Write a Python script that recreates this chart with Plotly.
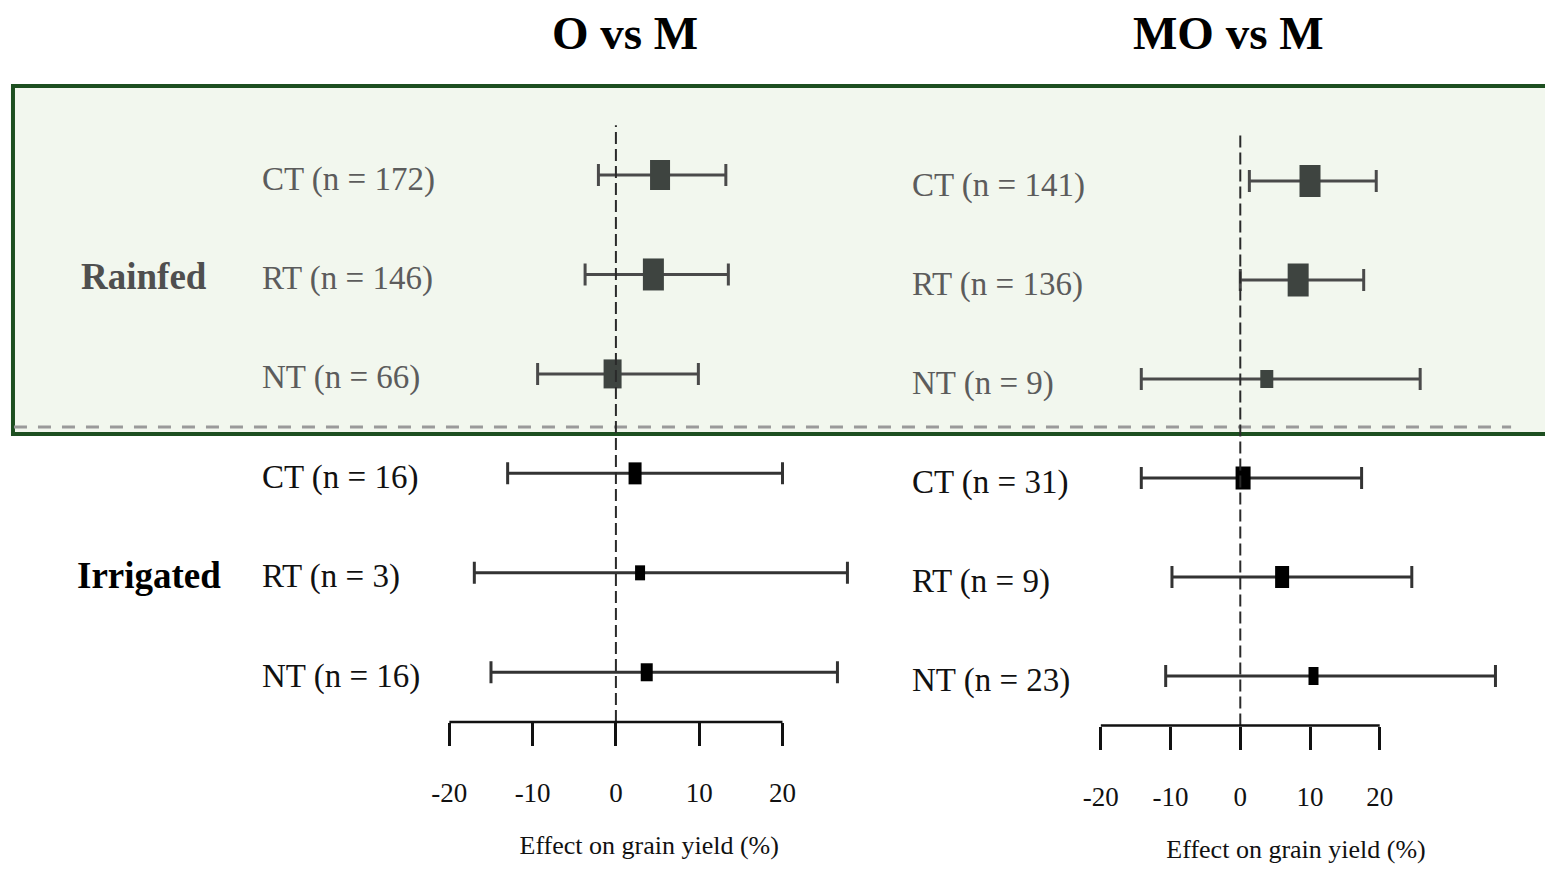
import plotly.graph_objects as go

W, H = 1545, 869

# ---------------- data ----------------
treatments = ["CT", "RT", "NT", "CT", "RT", "NT"]
groups = ["Rainfed", "Irrigated"]
rows = [0, 1, 2, 3, 4, 5]

left_title = "O vs M"
left_n = [172, 146, 66, 16, 3, 16]
left_est = [5.3, 4.5, -0.4, 2.3, 2.9, 3.7]
left_lo = [-2.1, -3.7, -9.4, -13.0, -17.0, -15.0]
left_hi = [13.2, 13.5, 9.9, 20.0, 27.8, 26.6]

right_title = "MO vs M"
right_n = [141, 136, 9, 31, 9, 23]
right_est = [10.0, 8.3, 3.8, 0.4, 6.0, 10.5]
right_lo = [1.3, 0.0, -14.2, -14.2, -9.8, -10.7]
right_hi = [19.5, 17.7, 25.8, 17.4, 24.6, 36.6]

tick_vals = [-20, -10, 0, 10, 20]
tick_text = ["-20", "-10", "0", "10", "20"]
axis_title = "Effect on grain yield (%)"

# box sizes (pixels) – relative weights
left_box_w = [20, 21, 18, 13, 10, 12]
left_box_h = [30, 32, 29, 22, 15, 18]
right_box_w = [21, 21, 13, 15, 14, 10]
right_box_h = [32, 33, 18, 23, 22, 18]

# ---------------- styles ----------------
FONT = "Liberation Serif, Times New Roman, serif"
rain_line = "#4a4a4a"
irr_line = "#333333"
rain_box = "#3e4440"
irr_box = "#000000"
rain_txt = "#5c5c5c"
irr_txt = "#111111"


def px_x(p):
    return p / W


def px_y(p):
    return 1 - p / H


fig = go.Figure()

L0, LS = 613.5, 8.35     # pixel of 0 and px/unit in left panel
R0, RS = 1239.5, 6.99    # pixel of 0 and px/unit in right panel

panels = [
    dict(xa="x", ya="y", est=left_est, lo=left_lo, hi=left_hi, n=left_n,
         bw=left_box_w, bh=left_box_h, label_x=257),
    dict(xa="x2", ya="y2", est=right_est, lo=right_lo, hi=right_hi, n=right_n,
         bw=right_box_w, bh=right_box_h, label_x=908),
]

shapes = []
annotations = []

# green shaded "Rainfed" block
shapes.append(dict(type="rect", xref="paper", yref="paper",
                   x0=px_x(9), x1=px_x(1565), y0=px_y(434), y1=px_y(86),
                   line=dict(color="#1d4f20", width=4), fillcolor="#f2f7ee",
                   layer="below"))
shapes.append(dict(type="line", xref="paper", yref="paper",
                   x0=px_x(10), x1=px_x(1511), y0=px_y(427), y1=px_y(427),
                   line=dict(color="#9a9a9a", width=3, dash="13px,11px"),
                   layer="below"))

for p in panels:
    for sl, lc in ((slice(0, 3), rain_line), (slice(3, 6), irr_line)):
        est = p["est"][sl]
        lo = p["lo"][sl]
        hi = p["hi"][sl]
        fig.add_trace(go.Scatter(
            x=est, y=rows[sl], mode="markers", xaxis=p["xa"], yaxis=p["ya"],
            marker=dict(size=1, color="rgba(0,0,0,0)"),
            error_x=dict(type="data", symmetric=False,
                         array=[h - e for h, e in zip(hi, est)],
                         arrayminus=[e - l for e, l in zip(est, lo)],
                         color=lc, thickness=3, width=11),
            showlegend=False, hoverinfo="skip"))
    # boxes
    for i, r in enumerate(rows):
        col = rain_box if i < 3 else irr_box
        shapes.append(dict(type="rect", xref=p["xa"], yref=p["ya"],
                           xsizemode="pixel", ysizemode="pixel",
                           xanchor=p["est"][i], yanchor=r,
                           x0=-p["bw"][i] / 2, x1=p["bw"][i] / 2,
                           y0=-p["bh"][i] / 2, y1=p["bh"][i] / 2,
                           fillcolor=col, line=dict(width=0), layer="above"))
    # zero dashed line
    shapes.append(dict(type="line", xref=p["xa"], yref=p["ya"] + " domain",
                       x0=0, x1=0, y0=0, y1=1,
                       line=dict(color="#2a2a2a", width=2, dash="12px,5px"),
                       layer="above"))
    # axis line -20..20
    shapes.append(dict(type="line", xref=p["xa"], yref=p["ya"] + " domain",
                       x0=tick_vals[0], x1=tick_vals[-1], y0=0, y1=0,
                       line=dict(color="#111111", width=2.5)))
    # row labels
    for i, r in enumerate(rows):
        annotations.append(dict(
            x=px_x(p["label_x"]), xref="paper", y=r, yref=p["ya"],
            text=f"{treatments[i]} (n = {p['n'][i]})", showarrow=False,
            xanchor="left", yanchor="middle", yshift=-4,
            font=dict(family=FONT, size=33, color=rain_txt if i < 3 else irr_txt)))

# group labels
annotations.append(dict(x=px_x(75), xref="paper", y=1, yref="y", text=f"<b>{groups[0]}</b>",
                        showarrow=False, xanchor="left", yanchor="middle", yshift=-2,
                        font=dict(family=FONT, size=37, color="#4f4f4f")))
annotations.append(dict(x=px_x(71), xref="paper", y=4, yref="y", text=f"<b>{groups[1]}</b>",
                        showarrow=False, xanchor="left", yanchor="middle", yshift=-3,
                        font=dict(family=FONT, size=37, color="#000000")))

# titles
annotations.append(dict(x=px_x(623), xref="paper", y=px_y(33), yref="paper",
                        text=f"<b>{left_title}</b>", showarrow=False,
                        xanchor="center", yanchor="middle",
                        font=dict(family=FONT, size=47, color="#000")))
annotations.append(dict(x=px_x(1228), xref="paper", y=px_y(33), yref="paper",
                        text=f"<b>{right_title}</b>", showarrow=False,
                        xanchor="center", yanchor="middle",
                        font=dict(family=FONT, size=47, color="#000")))

xcommon = dict(showgrid=False, zeroline=False, showline=False,
               tickmode="array", tickvals=tick_vals, ticktext=tick_text,
               ticks="outside", ticklen=23, tickwidth=2.5, tickcolor="#111",
               tickfont=dict(family=FONT, size=27, color="#111"),
               ticklabelstandoff=24,
               title=dict(text=axis_title, font=dict(family=FONT, size=26, color="#111"),
                          standoff=28))
ycommon = dict(showgrid=False, zeroline=False, showline=False, showticklabels=False,
               range=[5.5, -0.5])

fig.update_layout(
    width=W, height=H,
    margin=dict(l=0, r=0, t=0, b=0),
    paper_bgcolor="white", plot_bgcolor="rgba(0,0,0,0)",
    xaxis=dict(domain=[px_x(L0 - 22 * LS), px_x(L0 + 30 * LS)], range=[-22, 30],
               anchor="y", **xcommon),
    yaxis=dict(domain=[px_y(722), px_y(125.3)], anchor="x", **ycommon),
    xaxis2=dict(domain=[px_x(R0 - 22 * RS), px_x(R0 + 38 * RS)], range=[-22, 38],
                anchor="y2", **xcommon),
    yaxis2=dict(domain=[px_y(725.5), px_y(131.5)], anchor="x2", **ycommon),
    shapes=shapes, annotations=annotations,
    showlegend=False,
)

fig.write_html("out.html")
